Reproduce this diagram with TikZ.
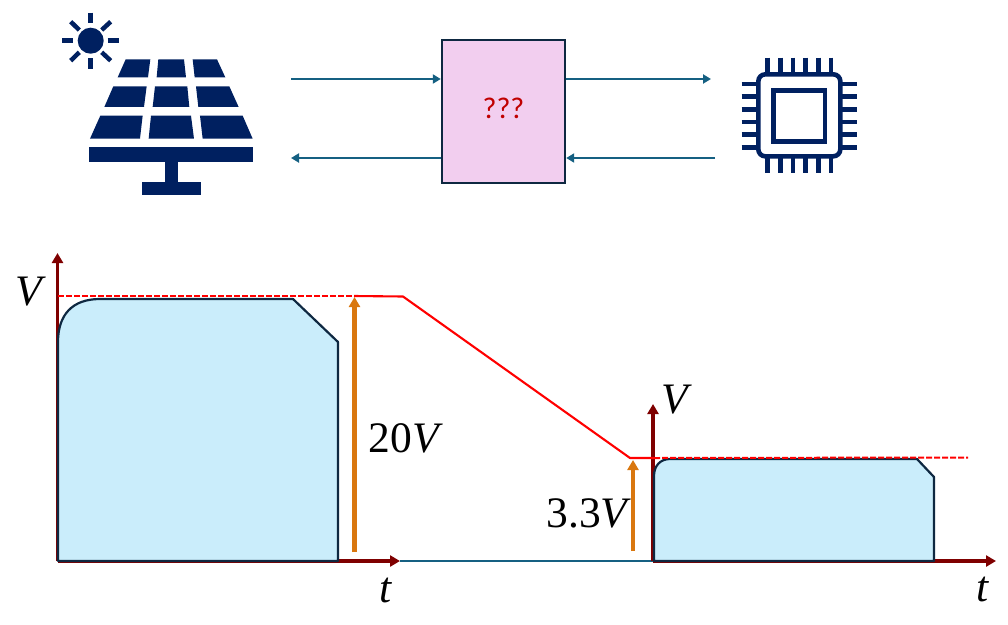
\documentclass[tikz,border=0pt]{standalone}
\usepackage{fontspec}
\newfontfamily\labelsans{Carlito}
\newfontfamily\mathserif{Liberation Serif}
\usetikzlibrary{arrows.meta}
\definecolor{navy}{HTML}{002060}
\definecolor{flow}{HTML}{156082}
\definecolor{edge}{HTML}{0E2841}
\definecolor{axisred}{HTML}{7F0000}
\definecolor{orangeup}{HTML}{D9770F}
\definecolor{panelblue}{HTML}{CAEDFB}
\definecolor{boxpink}{HTML}{F2CEEF}
\definecolor{qred}{HTML}{C00000}
\tikzset{
  flowarrow/.style={draw=flow,line width=2.2pt,-{Triangle[length=8pt,width=9pt]}},
  axisarrow/.style={draw=axisred,line width=3.2pt,-{Triangle[length=10pt,width=11pt]}},
  levelarrow/.style={draw=orangeup,line width=4.2pt,-{Triangle[length=10pt,width=11pt]}},
  pulse/.style={draw=edge,fill=panelblue,line width=2.2pt,line join=round},
  ramp/.style={draw=red,line width=2.1pt},
  level/.style={draw=red,line width=2pt,dash pattern=on 6pt off 2pt},
  mathlabel/.style={inner sep=0pt,font=\mathserif\fontsize{43.5}{43.5}\selectfont},
  blockbox/.style={draw=edge,fill=boxpink,line width=2.4pt,minimum width=123pt,minimum height=143pt,inner sep=0pt},
  ray/.style={draw=navy,line width=4.5pt},
  pin/.style={draw=navy,line width=4.6pt},
}
\begin{document}
\begin{tikzpicture}[x=1pt,y=-1pt]
\useasboundingbox (0,0) rectangle (1008,624);
% solar panel icon
\fill[navy] (90.7,40.7) circle (13);
\foreach \a/\b/\c/\d in {90.3/12.7/90.3/23.3, 90.3/58.3/90.3/69, 62.3/40.7/73.3/40.7, 107.7/40.7/119/40.7,
  70.7/21.7/79.3/30, 110.7/21.7/101.7/30, 70.7/60.7/79.3/52.3, 110.7/60.7/101.7/52.3}
  \draw[ray] (\a,\b) -- (\c,\d);
\begin{scope}[shift={(50,0)},x=0.3333pt,y=-0.3333pt]
  \fill[navy] (227,178)--(301,178)--(294,232)--(203,232)--cycle;
  \fill[navy] (325,178)--(402,178)--(408,232)--(320,232)--cycle;
  \fill[navy] (428,178)--(501,178)--(526,232)--(434,232)--cycle;
  \fill[navy] (190,259)--(290,259)--(282,321)--(163,321)--cycle;
  \fill[navy] (315,259)--(412,259)--(418,321)--(308,321)--cycle;
  \fill[navy] (438,259)--(538,259)--(566,321)--(445,321)--cycle;
  \fill[navy] (151,347)--(278,347)--(270,416)--(120,416)--cycle;
  \fill[navy] (303,347)--(423,347)--(432,416)--(296,416)--cycle;
  \fill[navy] (450,347)--(578,347)--(608,416)--(458,416)--cycle;
  \fill[navy] (118,442) rectangle (610,485);
  \fill[navy] (344,485) rectangle (384,546);
  \fill[navy] (275,546) rectangle (453,586);
\end{scope}
% chip icon
\begin{scope}[shift={(720,40)},x=0.3333pt,y=-0.3333pt]
  \foreach \p in {143,181,219,257,295,333}{
    \draw[pin] (\p,53) -- (\p,100);
    \draw[pin] (\p,352) -- (\p,400);
  }
  \foreach \p in {132,170,208,246,284,322}{
    \draw[pin] (65,\p) -- (112,\p);
    \draw[pin] (364,\p) -- (412,\p);
  }
  \draw[navy,line width=4.6pt,fill=white,rounded corners=7pt] (115,103) rectangle (361,349);
  \draw[navy,line width=4.4pt] (161,151) rectangle (315,304);
\end{scope}
% block and its connectors
\node[blockbox] (block) at (503.5,111.5) {};
\node[font=\labelsans\fontsize{30}{30}\selectfont,text=qred,inner sep=0pt] (qq) at (503.5,108) {???};
\coordinate (srcout) at (291,79);
\coordinate (srcin) at (291,158);
\coordinate (chipin) at (711,79);
\coordinate (chipout) at (715,158);
\draw[flowarrow] (srcout) -- (srcout -| block.west);
\draw[flowarrow] (srcin -| block.west) -- (srcin);
\draw[flowarrow] (chipin -| block.east) -- (chipin);
\draw[flowarrow] (chipout) -- (chipout -| block.east);
% graph coordinates
\coordinate (o1) at (57.5,561);
\coordinate (v1) at (57.5,253);
\coordinate (t1) at (400,561);
\coordinate (o2) at (653,561);
\coordinate (v2) at (653,404);
\coordinate (t2) at (996,561);
\coordinate (hi0) at (58,296);
\coordinate (hi1) at (354,296);
\coordinate (hi2) at (403,296.5);
\coordinate (lo0) at (630,458);
\coordinate (lo1) at (654,458);
\coordinate (lo2) at (968,457.5);
\coordinate (up1a) at (354.5,552);
\coordinate (up1b) at (354.5,297);
\coordinate (up2a) at (633,551);
\coordinate (up2b) at (633,460);
% baseline and axes
\draw[flow,line width=2pt] (t1) -- (o2);
\draw[axisarrow] (o1) -- (v1);
\draw[axisarrow] (o1) -- (t1);
\draw[axisarrow] (o2) -- (v2);
\draw[axisarrow] (o2) -- (t2);
% pulses
\draw[pulse] (58,561) -- (58,342) .. controls (58,315) and (72,299) .. (100,299)
  -- (293,299) -- (338,342) -- (338,561) -- cycle;
\draw[pulse] (654,561) -- (654,476) .. controls (654,466) and (660,459) .. (670,459)
  -- (917,459) -- (934,477) -- (934,561) -- cycle;
% level arrows
\draw[levelarrow] (up1a) -- (up1b);
\draw[levelarrow] (up2a) -- (up2b);
% level lines
\draw[level] (hi0) -- (hi1);
\draw[ramp,line join=round] (hi1) -- (hi2) -- (lo0) -- (lo1);
\draw[level] (lo1) -- (lo2);
% labels
\node[mathlabel] (lv1) at (29,292) {\itshape V};
\node[mathlabel] (lt1) at (386,590) {\itshape t};
\node[mathlabel] (l20) at (404,438) {20\itshape V};
\node[mathlabel] (lv2) at (675,400) {\itshape V};
\node[mathlabel] (l33) at (587,513) {3.3\itshape V};
\node[mathlabel] (lt2) at (983,589) {\itshape t};
\end{tikzpicture}
\end{document}
